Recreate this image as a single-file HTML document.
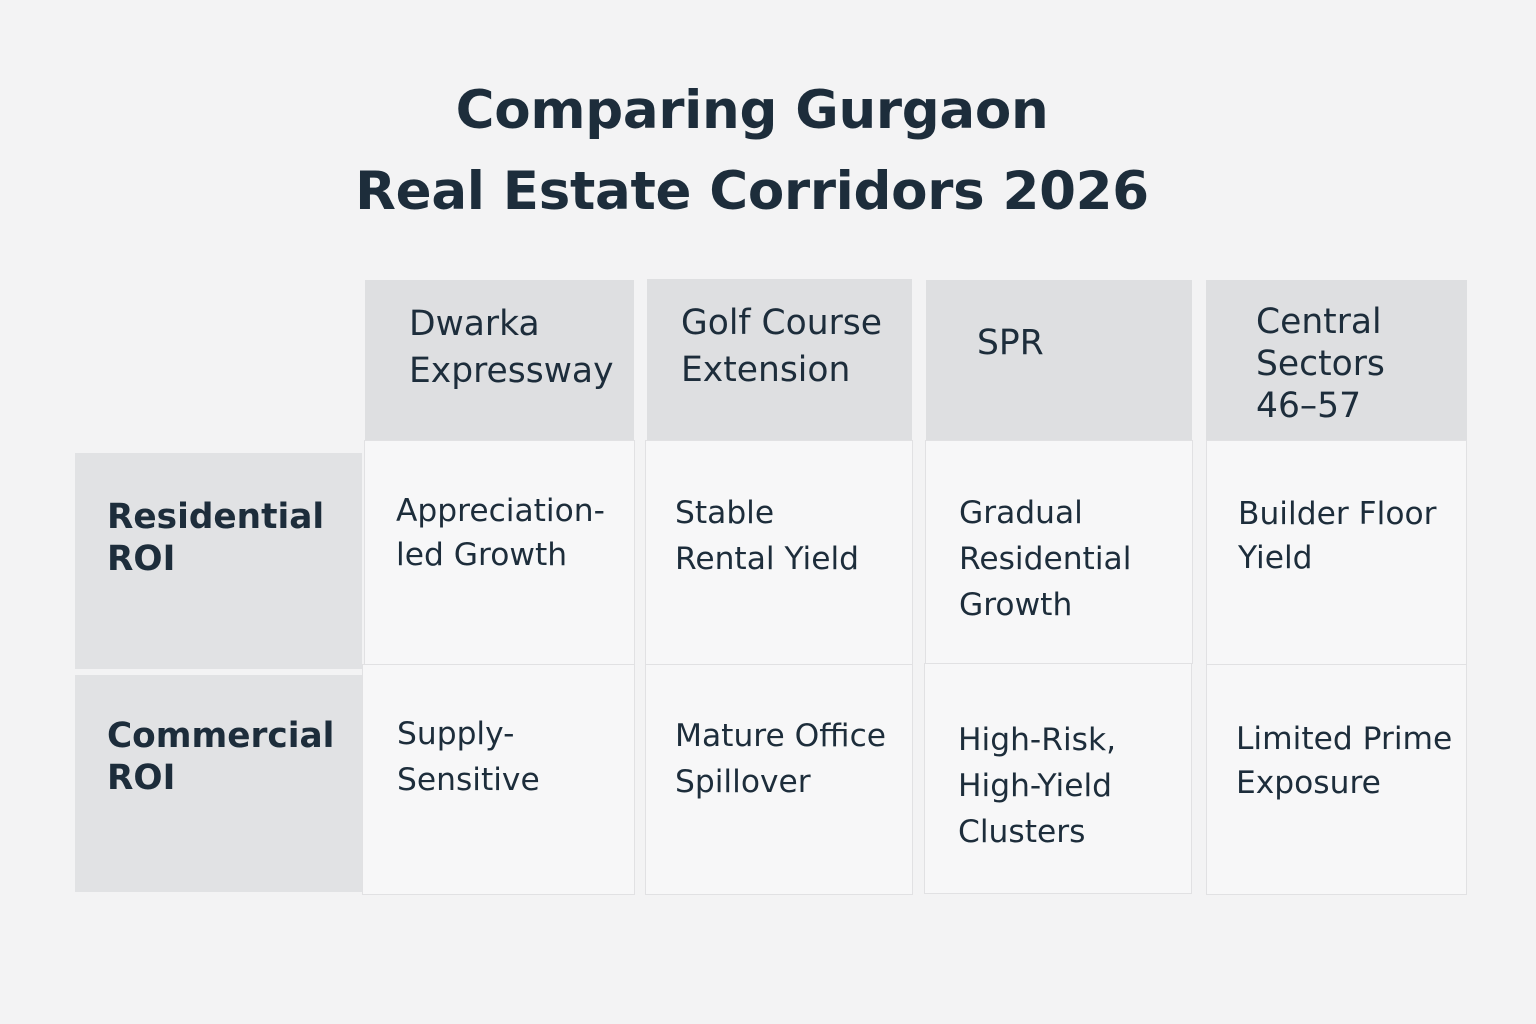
<!DOCTYPE html>
<html><head><meta charset="utf-8"><style>
body{margin:0;width:1536px;height:1024px;background:#f3f3f4;font-family:"DejaVu Sans","Liberation Sans",sans-serif;color:#1d2d3b;position:relative;overflow:hidden}
.t{position:absolute;left:0;width:1504px;text-align:center;font-weight:bold;font-size:53px;letter-spacing:-0.3px}
.c{position:absolute;box-sizing:border-box}
.h{background:#dedfe1;font-size:34.5px;line-height:47px}
.b{background:#f7f7f8;border:1.5px solid #e1e1e3;font-size:31.3px;line-height:46px}
.l{background:#e1e2e4;font-weight:bold;font-size:34.3px;line-height:42px}
.c span{position:absolute}
</style></head><body>
<div class="t" style="top:80px">Comparing Gurgaon</div>
<div class="t" style="top:161px">Real Estate Corridors 2026</div>

<div class="c h" style="left:365px;top:280px;width:269px;height:160px"><span style="left:44px;top:21px">Dwarka<br>Expressway</span></div>
<div class="c h" style="left:647px;top:279px;width:265px;height:161px"><span style="left:34px;top:21px">Golf Course<br>Extension</span></div>
<div class="c h" style="left:926px;top:280px;width:266px;height:160px"><span style="left:51px;top:40px">SPR</span></div>
<div class="c h" style="left:1206px;top:280px;width:261px;height:161px"><span style="left:50px;top:21px;line-height:42px">Central<br>Sectors<br>46–57</span></div>

<div class="c l" style="left:75px;top:453px;width:287px;height:216px"><span style="left:32px;top:43px">Residential<br>ROI</span></div>
<div class="c l" style="left:75px;top:675px;width:288px;height:217px"><span style="left:32px;top:40px">Commercial<br>ROI</span></div>

<div class="c b" style="left:364px;top:440px;width:271px;height:225px"><span style="left:31px;top:48px;line-height:44px">Appreciation-<br>led Growth</span></div>
<div class="c b" style="left:645px;top:440px;width:268px;height:225px"><span style="left:29px;top:49px">Stable<br>Rental Yield</span></div>
<div class="c b" style="left:925px;top:440px;width:268px;height:224px"><span style="left:33px;top:49px">Gradual<br>Residential<br>Growth</span></div>
<div class="c b" style="left:1206px;top:440px;width:261px;height:225px"><span style="left:31px;top:51px;line-height:44px">Builder Floor<br>Yield</span></div>

<div class="c b" style="left:362px;top:664px;width:273px;height:231px"><span style="left:34px;top:46px">Supply-<br>Sensitive</span></div>
<div class="c b" style="left:645px;top:664px;width:268px;height:231px"><span style="left:29px;top:48px">Mature Office<br>Spillover</span></div>
<div class="c b" style="left:924px;top:663px;width:268px;height:231px"><span style="left:33px;top:53px">High-Risk,<br>High-Yield<br>Clusters</span></div>
<div class="c b" style="left:1206px;top:664px;width:261px;height:231px"><span style="left:29px;top:52px;line-height:44px">Limited Prime<br>Exposure</span></div>
</body></html>
